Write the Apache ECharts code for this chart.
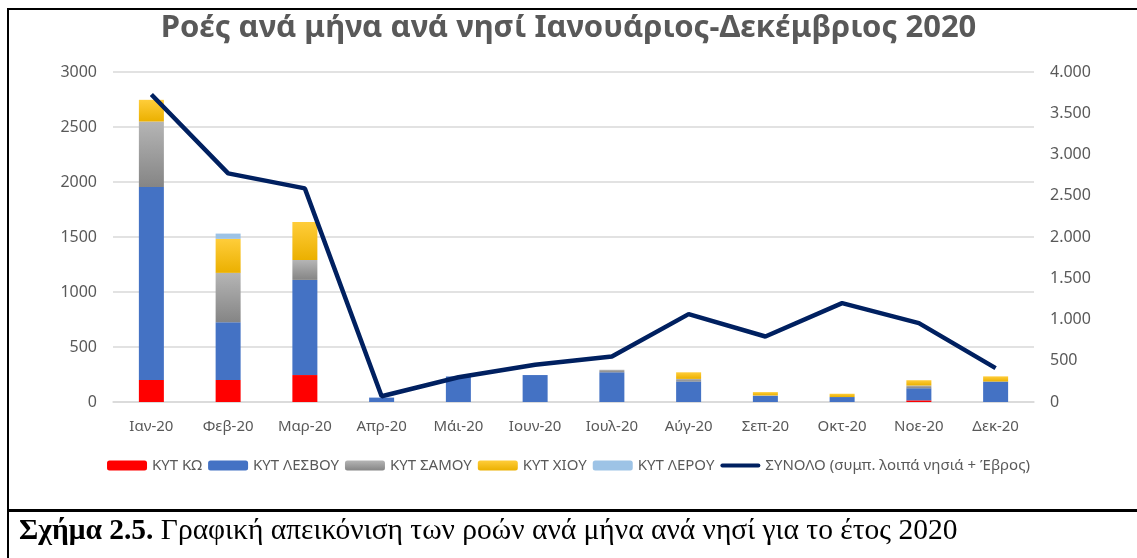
<!DOCTYPE html>
<html>
<head>
<meta charset="utf-8">
<script src="https://cdn.jsdelivr.net/npm/echarts@6/dist/echarts.min.js"></script>
<style>
  html, body { margin: 0; padding: 0; background: #fff; }
  #wrap { position: relative; width: 1137px; height: 558px; overflow: hidden; }
  #main { position: absolute; left: 0; top: 0; width: 1137px; height: 558px; }
  .ln { position: absolute; background: #000; }
  #caption {
    position: absolute; left: 19px; top: 512px; line-height: 34px;
    font-family: "Liberation Serif", "DejaVu Serif", serif;
    font-size: 29.5px; color: #000; white-space: nowrap;
  }
</style>
</head>
<body>
<div id="wrap">
  <div id="main"></div>
  <div class="ln" style="left:7px;top:8px;width:1130px;height:2px;"></div>
  <div class="ln" style="left:7px;top:8px;width:2px;height:550px;"></div>
  <div class="ln" style="left:7px;top:509px;width:1130px;height:3px;"></div>
  <div id="caption"><b>Σχήμα 2.5.</b> Γραφική απεικόνιση των ροών ανά μήνα ανά νησί για το έτος 2020</div>
</div>
<script>
const months = ['Ιαν-20', 'Φεβ-20', 'Μαρ-20', 'Απρ-20', 'Μάι-20', 'Ιουν-20', 'Ιουλ-20', 'Αύγ-20', 'Σεπ-20', 'Οκτ-20', 'Νοε-20', 'Δεκ-20'];

// KYT flows per island (left axis)
const kos    = [200, 200, 245, 0, 0, 0, 0, 0, 0, 0, 15, 0];
const lesvos = [1755, 526, 865, 40, 232, 245, 270, 186, 55, 45, 110, 186];
const samos  = [595, 448, 181, 0, 0, 0, 23, 24, 5, 0, 25, 0];
const chios  = [197, 309, 345, 0, 0, 0, 0, 60, 30, 30, 48, 47];
const leros  = [0, 48, 0, 0, 0, 0, 0, 0, 0, 0, 0, 0];

// total incl. other islands + Evros (right axis)
const total  = [3727, 2771, 2589, 70, 300, 451, 552, 1065, 794, 1198, 956, 411];

const totalName = 'ΣΥΝΟΛΟ (συμπ. λοιπά νησιά + Έβρος)';
const labelColor = '#595959';
const font = '"Noto Sans", "Open Sans", sans-serif';

function grad(top, bottom) {
    return new echarts.graphic.LinearGradient(0, 0, 0, 1, [
        {offset: 0, color: top},
        {offset: 1, color: bottom}
    ]);
}

function barSeries(name, data, color) {
    return {
        name: name,
        type: 'bar',
        stack: 'kyt',
        barWidth: 25,
        data: data,
        itemStyle: {color: color}
    };
}

const chart = echarts.init(document.getElementById('main'));

chart.setOption({
    backgroundColor: 'transparent',
    animation: false,
    title: {
        text: 'Ροές ανά μήνα ανά νησί Ιανουάριος-Δεκέμβριος 2020',
        left: 'center',
        top: 8,
        textStyle: {fontFamily: font, fontSize: 31, fontWeight: 'bold', color: labelColor}
    },
    legend: {
        bottom: 80,
        left: 'center',
        itemWidth: 40,
        itemHeight: 10,
        itemGap: 6,
        textStyle: {fontFamily: font, fontSize: 15, color: labelColor},
        data: [
            'ΚΥΤ ΚΩ', 'ΚΥΤ ΛΕΣΒΟΥ', 'ΚΥΤ ΣΑΜΟΥ', 'ΚΥΤ ΧΙΟΥ', 'ΚΥΤ ΛΕΡΟΥ',
            {name: totalName, icon: 'path://M2,0 L38,0 A2,2 0 0 1 38,4 L2,4 A2,2 0 0 1 2,0 Z'}
        ]
    },
    grid: {left: 113, right: 103, top: 72, bottom: 156},
    xAxis: {
        type: 'category',
        data: months,
        axisTick: {show: false},
        axisLine: {lineStyle: {color: '#D9D9D9', width: 1.5}},
        axisLabel: {fontFamily: font, fontSize: 15, color: labelColor, margin: 17}
    },
    yAxis: [
        {
            type: 'value',
            min: 0, max: 3000, interval: 500,
            axisLine: {show: false},
            axisTick: {show: false},
            splitLine: {lineStyle: {color: '#D9D9D9', width: 1.5}},
            axisLabel: {fontFamily: font, fontSize: 16, color: labelColor, margin: 16, formatter: v => String(v)}
        },
        {
            type: 'value',
            min: 0, max: 4000, interval: 500,
            axisLine: {show: false},
            axisTick: {show: false},
            splitLine: {show: false},
            axisLabel: {
                fontFamily: font, fontSize: 16, color: labelColor, margin: 16,
                formatter: v => v >= 1000 ? Math.floor(v / 1000) + '.' + String(v % 1000).padStart(3, '0') : String(v)
            }
        }
    ],
    series: [
        barSeries('ΚΥΤ ΚΩ', kos, '#FF0000'),
        barSeries('ΚΥΤ ΛΕΣΒΟΥ', lesvos, '#4472C4'),
        barSeries('ΚΥΤ ΣΑΜΟΥ', samos, grad('#B5B5B5', '#858585')),
        barSeries('ΚΥΤ ΧΙΟΥ', chios, grad('#FFCD3A', '#EBB000')),
        barSeries('ΚΥΤ ΛΕΡΟΥ', leros, '#9DC3E6'),
        {
            name: totalName,
            type: 'line',
            yAxisIndex: 1,
            data: total,
            symbol: 'none',
            z: 5,
            lineStyle: {color: '#002060', width: 4.5},
            itemStyle: {color: '#002060'}
        }
    ]
});
</script>
</body>
</html>
